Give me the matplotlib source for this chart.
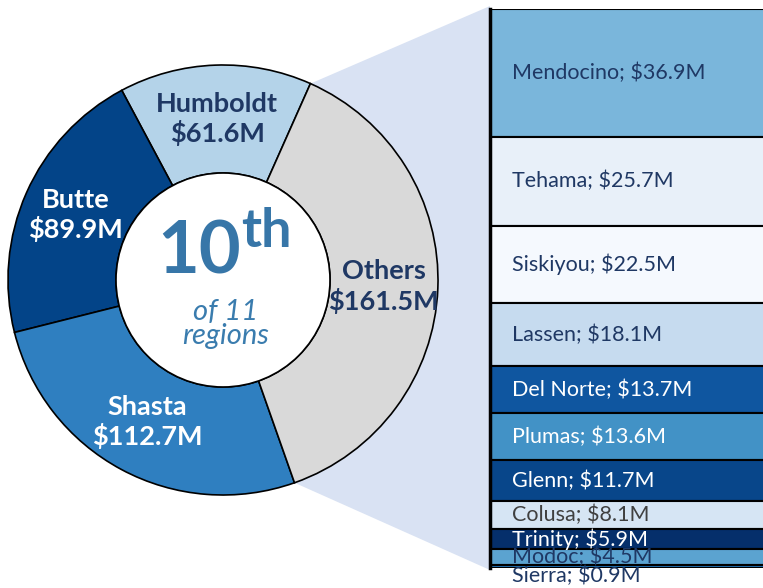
import numpy as np
import matplotlib
matplotlib.use("Agg")
import matplotlib.pyplot as plt
from matplotlib.patches import Polygon, Circle

plt.rcParams['font.family'] = ['Lato', 'DejaVu Sans']

# donut data
regions = ['Humboldt', 'Butte', 'Shasta', 'Others']
region_vals = [61.6, 89.9, 112.7, 161.5]
region_cols = ['#b4d3e9', '#034488', '#2f7fc0', '#d9d9d9']
region_txt = ['#1f3864', 'white', 'white', '#1f3864']

# breakdown of "Others"
others = ['Mendocino', 'Tehama', 'Siskiyou', 'Lassen', 'Del Norte', 'Plumas',
          'Glenn', 'Colusa', 'Trinity', 'Modoc', 'Sierra']
others_vals = [36.9, 25.7, 22.5, 18.1, 13.7, 13.6, 11.7, 8.1, 5.9, 4.5, 0.9]
others_cols = ['#7ab6db', '#e8f0f9', '#f5f9fe', '#c6dbef', '#0f56a0', '#4292c6',
               '#08468a', '#d6e5f4', '#052f6b', '#5ba3d0', '#2171b5']
others_txt = ['#1f3864', '#1f3864', '#1f3864', '#1f3864', 'white', 'white',
              'white', '#404040', 'white', '#1f3864', '#1f3864']

W, H = 763, 588
fig = plt.figure(figsize=(W / 100, H / 100), dpi=100)
ax = fig.add_axes([0, 0, 1, 1])

cx, cy, R = 223, 308, 215
rin = 107
wedges, _ = ax.pie(region_vals, colors=region_cols, startangle=66, counterclock=True,
                   center=(cx, cy), radius=R,
                   wedgeprops=dict(width=R - rin, edgecolor='black', linewidth=1.2))
for w in wedges:
    w.set_zorder(2)
ax.add_patch(Circle((cx, cy), rin, facecolor='white', edgecolor='black', lw=1.2, zorder=3))

# labels on the ring
for w, name, v, tc in zip(wedges, regions, region_vals, region_txt):
    mid = np.deg2rad((w.theta1 + w.theta2) / 2)
    r = (R + rin) / 2
    x, y = cx + r * np.cos(mid), cy + r * np.sin(mid)
    ax.text(x, y, f'{name}\n${v}M', ha='center', va='center', fontsize=19.5,
            fontweight='bold', color=tc, linespacing=1.2, zorder=4)

# centre text
ax.text(241, H - 273, '10', ha='right', va='baseline', fontsize=52,
        fontweight='bold', color='#3776a8', zorder=4)
ax.text(241, H - 247, 'th', ha='left', va='baseline', fontsize=39,
        fontweight='bold', color='#3776a8', zorder=4)
ax.text(226, H - 324, 'of 11\nregions', ha='center', va='center', fontsize=21,
        style='italic', color='#3a7cae', linespacing=0.9, zorder=4)

# bar column of the "Others" breakdown
bx0, by0, bh = 490, 20, 559
bax = fig.add_axes([bx0 / W, by0 / H, 290 / W, bh / H])
total = sum(others_vals)
bottoms = np.concatenate([[0], np.cumsum(others_vals)[:-1]])
bax.bar(0, others_vals, bottom=bottoms, width=1, align='edge', color=others_cols,
        edgecolor='black', linewidth=1.5)
bax.set_xlim(0, 1)
bax.set_ylim(total, 0)
bax.axis('off')
for name, v, b, tc in zip(others, others_vals, bottoms, others_txt):
    yc = b + v / 2
    if v < 2:
        yc = b + 3.2
    bax.text(0.075, yc, f'{name}; ${v}M', ha='left', va='center', fontsize=15.5,
             color=tc, clip_on=False)
bax.plot([0, 0], [0, total], color='black', lw=2.5, clip_on=False)

# connector from the Others wedge to the bar column
ow = wedges[-1]
t_bot, t_top = np.deg2rad(ow.theta1), np.deg2rad(ow.theta2)
p_top = (cx + R * np.cos(t_top), cy + R * np.sin(t_top))
p_bot = (cx + R * np.cos(t_bot), cy + R * np.sin(t_bot))
ax.add_patch(Polygon([p_top, (bx0, by0 + bh + 3), (bx0, by0 - 2), p_bot],
                     closed=True, facecolor='#d9e2f3', edgecolor='none', zorder=0))

ax.set_xlim(0, W)
ax.set_ylim(0, H)
ax.set_aspect('auto')
ax.axis('off')

fig.savefig('out.png', dpi=100)
